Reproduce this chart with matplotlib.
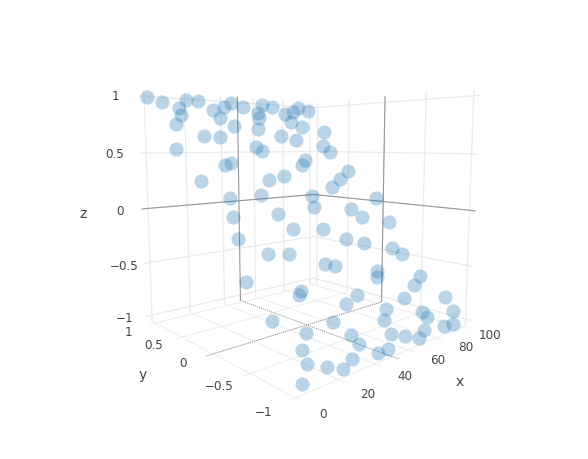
import numpy as np
import matplotlib
matplotlib.use('Agg')
import matplotlib.pyplot as plt

plt.rcParams['font.family'] = ['DejaVu Sans']

# --- data ---
x_values = [-0.2,5.9,18.8,24.8,12.9,11.9,6.8,30.7,37.8,43.5,49.6,31.6,36.9,17.8,25.8,0.9,62.9,68.7,56.6,55.6,
            50.6,74.6,81.8,87.5,93.5,75.4,80.6,62.1,70.1,94.7,86.6,88.8,42.4,45.0,20.0,23.9,4.8,68.0,63.7,49.0,
            38.9,30.1,14.0,58.2,55.2,11.0,33.1,36.2,7.9,52.4,92.8,83.2,74.2,99.3,77.3,80.7,96.7,61.6,71.5,17.2,
            27.2,2.0,23.3,21.3,4.2,15.3,10.1,9.2,3.2,42.2,46.4,86.6,90.8,68.0,66.0,93.0,85.0,99.5,74.1,48.8,
            40.6,59.9,54.8,98.6,79.0,80.0,92.6,86.0,73.2,67.1,60.7,53.9,29.6,34.5,35.8,48.2,41.8,28.4,22.4,16.5]
y_values = [0.99,0.95,0.98,0.98,0.9,0.84,0.75,0.9,0.94,0.98,0.95,0.82,0.75,0.65,0.64,0.54,0.98,0.97,0.89,0.84,
            0.73,0.9,0.93,0.98,0.95,0.81,0.76,0.66,0.62,0.71,0.56,0.5,0.55,0.52,0.4,0.42,0.28,0.43,0.38,0.29,
            0.26,0.15,0.14,0.11,0.02,0.01,-0.01,-0.13,-0.14,-0.16,0.31,0.24,0.17,0.04,-0.03,-0.11,-0.18,-0.26,-0.31,-0.27,
            -0.29,-0.41,-0.53,-0.55,-0.65,-0.76,-0.84,-0.91,-0.99,-0.4,-0.43,-0.39,-0.45,-0.52,-0.56,-0.63,-0.68,-0.82,-0.74,-0.64,
            -0.67,-0.77,-0.83,-0.92,-0.86,-0.9,-1.0,-0.99,-0.97,-1.0,-0.96,-0.92,-0.75,-0.85,-0.91,-0.99,-0.99,-0.97,-1.0,-0.96]
z_values = list(y_values)

x_ticks = [0, 20, 40, 60, 80, 100]
y_ticks = [-1, -0.5, 0, 0.5, 1]
z_ticks = [-1, -0.5, 0, 0.5, 1]
x_tick_labels = ['0', '20', '40', '60', '80', '100']
y_tick_labels = ['\u22121', '\u22120.5', '0', '0.5', '1']
z_tick_labels = ['\u22121', '\u22120.5', '0', '0.5', '1']

# --- scene ---
W, H = 588, 460
X_RANGE = (-3, 103)
Y_RANGE = (-1.06, 1.06)
Z_RANGE = (-1.06, 1.06)
X_ZERO, Y_ZERO, Z_ZERO = 50, 0, 0
CAMERA = np.array([[2.9579075, -32.1799874, -8.9944007, 210.1677386],
                   [0.4906967, 25.9440993, -136.2337005, 221.509618],
                   [0.0033344, 0.1783964, -0.0293557, 1.0]])

GRID = '#ebebeb'
FLOOR = '#ededed'
ZERO = '#989898'
TEXT = '#444444'

fig = plt.figure(figsize=(W / 100, H / 100), dpi=100)
ax = fig.add_axes([0, 0, 1, 1], projection='3d', computed_zorder=False)
ax.set_proj_type('ortho')
ax.set_axis_off()
ax.patch.set_visible(False)
ax.apply_aspect()

# camera: data -> image pixels -> the 2D limits of this axes
inv = ax.transData.inverted()
p0 = inv.transform((0, H))
p1 = inv.transform((W, 0))
sx = (p1[0] - p0[0]) / W
sy = (p1[1] - p0[1]) / H
M = np.array([sx * CAMERA[0] + p0[0] * CAMERA[2],
              sy * CAMERA[1] + p0[1] * CAMERA[2],
              [0, 0, 0, 1],
              CAMERA[2]])
ax.get_proj = lambda: M


def seg(a, b, kind='grid'):
    kw = {'grid': dict(color=GRID, lw=0.9, zorder=1),
          'floor': dict(color=FLOOR, lw=0.7, zorder=1),
          'zero': dict(color=ZERO, lw=0.8, zorder=2),
          'dotted': dict(color='#808080', lw=0.6, ls=(0, (1.3, 1.3)), zorder=2)}[kind]
    ax.plot([a[0], b[0]], [a[1], b[1]], [a[2], b[2]], solid_capstyle='butt', **kw)


xa, xb = X_RANGE
ya, yb = Y_RANGE
za, zb = Z_RANGE

# wall y = top of range
for t in x_ticks:
    seg((t, yb, za), (t, yb, zb))
for t in z_ticks:
    seg((xa, yb, t), (xb, yb, t))
# wall x = top of range
for t in y_ticks:
    seg((xb, t, za), (xb, t, zb))
for t in z_ticks:
    seg((xb, ya, t), (xb, yb, t))
# floor
for t in x_ticks:
    seg((t, ya, za), (t, yb, za), 'floor')
for t in y_ticks:
    seg((xa, t, za), (xb, t, za), 'floor')
# zero lines
seg((X_ZERO, yb, za), (X_ZERO, yb, zb), 'zero')
seg((xb, Y_ZERO, za), (xb, Y_ZERO, zb), 'zero')
seg((xa, yb, Z_ZERO), (xb, yb, Z_ZERO), 'zero')
seg((xb, ya, Z_ZERO), (xb, yb, Z_ZERO), 'zero')
seg((X_ZERO, ya, za), (X_ZERO, yb, za), 'dotted')
seg((xa, Y_ZERO, za), (xb, Y_ZERO, za), 'dotted')

ax.scatter(x_values, y_values, z_values, s=104, c='#1f77b4', alpha=0.31, linewidths=0,
           depthshade=False, zorder=5)


def label(px, py, s, size=8.64):
    fig.text(px / W, 1 - py / H, s, ha='center', va='center', fontsize=size, color=TEXT)


for (px, py), s in zip([(323.3, 414.3), (367.3, 394), (405, 376), (437.3, 360.7), (465.7, 347.3), (490, 336)], x_tick_labels):
    label(px, py, s)
for (px, py), s in zip([(264, 413), (219.3, 386), (183.3, 364), (153.3, 345.7), (128.3, 332.5)], y_tick_labels):
    label(px, py, s)
for (px, py), s in zip([(124.5, 319), (124.5, 267), (120, 212), (115, 155), (115, 97)], z_tick_labels):
    label(px, py, s)
label(460, 382.5, 'x', 10)
label(142.3, 375, 'y', 10)
label(83, 214.5, 'z', 10)

fig.savefig('out.png', dpi=100)
